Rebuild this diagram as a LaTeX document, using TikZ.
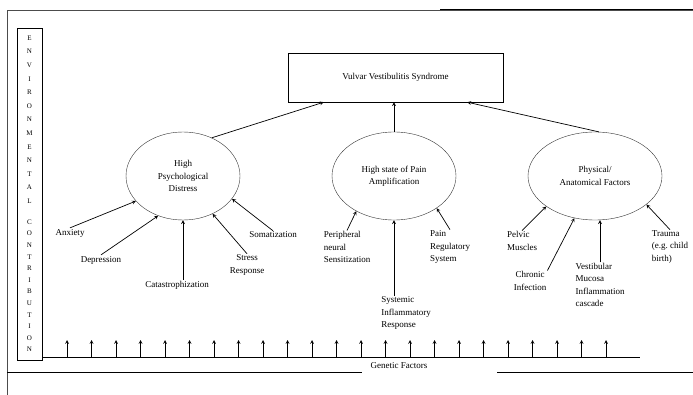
\documentclass[tikz,border=0pt]{standalone}
\usepackage{fontspec}
\setmainfont{Liberation Serif}
\usetikzlibrary{shapes.geometric}

\begin{document}
\begin{tikzpicture}[x=1pt, y=-1pt, >=stealth,
  txt/.style={font=\fontsize{9}{12.2}\selectfont, inner sep=1pt},
  factor/.style={draw=black!80, ellipse, inner sep=0pt, minimum height=88pt, align=center, txt},
  link/.style={->, line width=0.7pt}]
  \useasboundingbox (0,0) rectangle (693,395);

  % --- 1. Frame ---
  \draw[black!70] (7,395) -- (7,10) -- (693,10);
  \draw[line width=1pt] (440,10) -- (693,10);

  % --- 2. Environmental contribution (left column) ---
  \node[draw, minimum width=25pt, minimum height=332pt, inner sep=0pt] (env) at (29.5,194) {};
  \node[font=\fontsize{7}{13.6}\selectfont, align=center, anchor=north, inner sep=0pt] (envA) at (29.5,35.5)
    {E\\N\\V\\I\\R\\O\\N\\M\\E\\N\\T\\A\\L};
  \node[font=\fontsize{7}{11.6}\selectfont, align=center, anchor=north, inner sep=0pt] (envB) at (29.5,219.5)
    {C\\O\\N\\T\\R\\I\\B\\U\\T\\I\\O\\N};

  % --- 3. Syndrome and the three factors ---
  \node[draw, minimum width=215pt, minimum height=49pt, txt] (vvs) at (395.5,77.5) {Vulvar Vestibulitis Syndrome};
  \node[factor, minimum width=114pt] (psy) at (183,176) {High\\Psychological\\Distress};
  \node[factor, minimum width=124pt] (pain) at (394,176) {High state of Pain\\Amplification};
  \node[factor, minimum width=134pt] (phy) at (595,176) {Physical/\\Anatomical Factors};

  \draw[link] (psy.53) -- (vvs.199);
  \draw[link] (pain.north) -- (pain.north |- vvs.south);
  \draw[link] (phy.85) -- (vvs.-19);

  % --- 4. Psychological distress ---
  \node[txt] (anx) at (70,233) {Anxiety};
  \node[txt] (dep) at (101,260) {Depression};
  \node[txt] (cat) at (177,285) {Catastrophization};
  \node[txt, align=center] (str) at (247,265) {Stress\\Response};
  \node[txt] (som) at (273,235) {Somatization};
  \draw[link] (anx.north) -- (psy.208);
  \draw[link] (dep.north) -- (psy.238);
  \draw[link] (cat.north -| psy.south) -- (psy.south);
  \draw[link] (str.north) -- (psy.-52);
  \draw[link] (som.north) -- (psy.-25);

  % --- 5. Pain amplification ---
  \node[txt, align=left] (per) at (347,247) {Peripheral\\neural\\Sensitization};
  \node[txt, align=left] (sys) at (406,313) {Systemic\\Inflammatory\\Response};
  \node[txt, align=left] (prs) at (450,247) {Pain\\Regulatory\\System};
  \draw[link] (per.north) -- (pain.223);
  \draw[link] (sys.north -| pain.south) -- (pain.south);
  \draw[link] (prs.north) -- (pain.-37);

  % --- 6. Physical / anatomical ---
  \node[txt, align=left] (pel) at (522,241) {Pelvic\\Muscles};
  \node[txt, align=center] (chr) at (530,281) {Chronic\\Infection};
  \node[txt, align=left] (ves) at (600,285) {Vestibular\\Mucosa\\Inflammation\\cascade};
  \node[txt, align=left] (tra) at (670,247) {Trauma\\(e.g.\ child\\birth)};
  \draw[link] (pel.north) -- (phy.212);
  \draw[link] (chr.north east) -- (phy.244);
  \draw[link] (ves.north) -- (ves.north |- phy.south);
  \draw[link] (tra.north) -- (phy.-29);

  % --- 7. Genetic factors ---
  \coordinate (gl) at (42,357);
  \coordinate (gr) at (640,357);
  \draw[line width=0.7pt] (gl) -- (gr);
  \foreach \i in {0,...,22} {
    \coordinate (g\i) at (67+24.5*\i,357);
    \draw[link] (g\i) -- ++(0,-17);
  }
  \draw (7,372) -- (362,372);
  \draw (497,372) -- (693,372);
  \node[txt] (gen) at (399,366) {Genetic Factors};

\end{tikzpicture}
\end{document}
